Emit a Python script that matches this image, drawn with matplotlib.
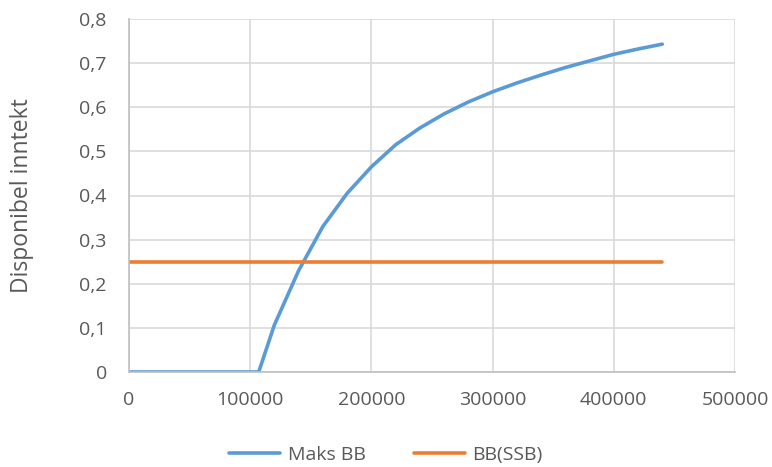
import matplotlib
matplotlib.use("Agg")
import matplotlib.pyplot as plt
from matplotlib.ticker import FuncFormatter

plt.rcParams['font.family'] = ['Open Sans', 'DejaVu Sans']

# data
inntekt = [0, 107000, 120000, 140000, 160000, 180000, 200000, 220000, 240000,
           260000, 280000, 300000, 320000, 340000, 360000, 380000, 400000,
           420000, 440000]
maks_bb = [0, 0, 0.107, 0.23, 0.33, 0.405, 0.465, 0.515, 0.553, 0.585,
           0.612, 0.635, 0.655, 0.673, 0.69, 0.705, 0.72, 0.732, 0.743]
ssb_x = [0, 440000]
ssb_bb = [0.25, 0.25]

TXT = '#595959'
fig = plt.figure(figsize=(7.72, 4.67), dpi=100)
ax = fig.add_axes([129 / 772, 1 - 372 / 467, (735 - 129) / 772, (372 - 19) / 467])

ax.plot(inntekt, maks_bb, color='#5B9BD5', lw=2.6, label='Maks BB', solid_capstyle='round')
ax.plot(ssb_x, ssb_bb, color='#ED7D31', lw=2.6, label='BB(SSB)', solid_capstyle='round')

ax.set_xlim(0, 500000)
ax.set_ylim(0, 0.8)
ax.set_xticks(range(0, 500001, 100000))
ax.set_yticks([i / 10 for i in range(9)])
ax.yaxis.set_major_formatter(FuncFormatter(lambda v, p: '0' if v == 0 else f'{v:.1f}'.replace('.', ',')))
ax.xaxis.set_major_formatter(FuncFormatter(lambda v, p: f'{int(v)}'))
ax.grid(True, color='#d9d9d9', lw=1.2)
ax.set_axisbelow(True)
for s in ['top', 'right']:
    ax.spines[s].set_visible(False)
for s in ['left', 'bottom']:
    ax.spines[s].set_color('#bfbfbf')
    ax.spines[s].set_linewidth(1.2)
ax.tick_params(axis='y', length=0, labelsize=14, colors=TXT, pad=16)
ax.tick_params(axis='x', length=0, labelsize=14, colors=TXT, pad=14)
ax.set_ylabel('Disponibel inntekt', fontsize=16.5, color=TXT)
ax.yaxis.set_label_coords(-(129 - 34) / 606, 0.5)

fig.legend(loc='center', bbox_to_anchor=(0.5, 1 - 455 / 467), ncol=2, frameon=False,
           fontsize=14, labelcolor=TXT, handlelength=2.6, handletextpad=0.4,
           columnspacing=2.5)

fig.savefig('out.png', dpi=100)
